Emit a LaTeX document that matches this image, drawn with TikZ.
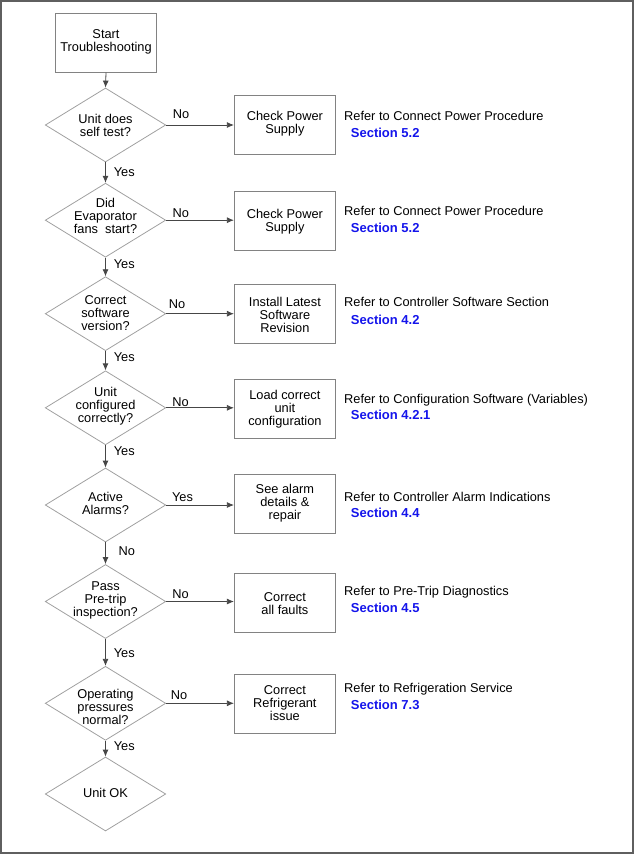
\documentclass[tikz,border=0pt]{standalone}
\usepackage{fontspec}
\setmainfont{Liberation Sans}
\usetikzlibrary{shapes.geometric,arrows.meta}
\definecolor{secblue}{RGB}{20,20,235}
\definecolor{diaC}{RGB}{160,160,160}
\definecolor{boxC}{RGB}{130,130,130}
\definecolor{lineC}{RGB}{70,70,70}
\definecolor{frameC}{RGB}{95,95,95}
\begin{document}
\begin{tikzpicture}[x=1pt,y=-1pt,
  every node/.style={font=\fontsize{12.8}{13}\selectfont},
  decision/.style={draw=diaC, shape=diamond, minimum width=120.5pt, minimum height=74pt, inner sep=0pt, line width=0.8pt},
  actbox/.style={draw=boxC, rectangle, minimum width=101.2pt, minimum height=59pt, inner sep=0pt, line width=0.8pt},
  lbl/.style={align=center, inner sep=0pt, text depth=0pt},
  flow/.style={draw=lineC, line width=0.8pt, -{Latex[length=7pt,width=6pt]}},
  yn/.style={inner sep=0pt, text depth=0pt},
  refer/.style={anchor=west, inner sep=0pt, text height=9.2pt, text depth=0pt},
  sect/.style={anchor=west, inner sep=0pt, text height=9.4pt, text depth=0pt, text=secblue, font=\fontsize{13}{13}\selectfont\bfseries},
]
\useasboundingbox (0,0) rectangle (634,854);
\draw[frameC, line width=1.4pt] (1,1) rectangle (632.8,852.8);

% start
\node[actbox] (start) at (106,42.8) {};
\node[lbl] (tstart) at (106,40.3) {Start\\Troubleshooting};

% decisions
\node[decision] (d1) at (105.5,125) {};
\node[decision] (d2) at (105.5,220.2) {};
\node[decision] (d3) at (105.5,313.7) {};
\node[decision] (d4) at (105.5,407.8) {};
\node[decision] (d5) at (105.5,505) {};
\node[decision] (d6) at (105.5,601.5) {};
\node[decision] (d7) at (105.5,703.3) {};
\node[decision] (d8) at (105.5,794) {};

\node[lbl] (td1) at (105.5,125) {Unit does\\self test?};
\node[lbl] (td2) at (105.5,216) {Did\\Evaporator\\fans~ start?};
\node[lbl] (td3) at (105.5,312.7) {Correct\\software\\version?};
\node[lbl] (td4) at (105.5,405) {Unit\\configured\\correctly?};
\node[lbl] (td5) at (105.5,503) {Active\\Alarms?};
\node[lbl] (td6) at (105.5,599.3) {Pass\\Pre-trip\\inspection?};
\node[lbl] (td7) at (105.5,707) {Operating\\pressures\\normal?};
\node[lbl] (td8) at (105.5,793.3) {Unit OK};

% action boxes
\node[actbox] (b1) at (284.9,125) {};
\node[actbox] (b2) at (284.9,220.6) {};
\node[actbox] (b3) at (284.9,313.8) {};
\node[actbox] (b4) at (284.9,408.7) {};
\node[actbox] (b5) at (284.9,503.8) {};
\node[actbox] (b6) at (284.9,602.8) {};
\node[actbox] (b7) at (284.9,703.8) {};

\node[lbl] (tb1) at (284.9,122.8) {Check Power\\Supply};
\node[lbl] (tb2) at (284.9,220.8) {Check Power\\Supply};
\node[lbl] (tb3) at (284.9,314.7) {Install Latest\\Software\\Revision};
\node[lbl] (tb4) at (284.9,408) {Load correct\\unit\\configuration};
\node[lbl] (tb5) at (284.9,502.2) {See alarm\\details \&\\repair};
\node[lbl] (tb6) at (284.9,603.7) {Correct\\all faults};
\node[lbl] (tb7) at (284.9,703.3) {Correct\\Refrigerant\\issue};

% references
\node[refer] (r1) at (344,115.7) {Refer to Connect Power Procedure};
\node[sect]  (s1) at (350.7,132.3) {Section 5.2};
\node[refer] (r2) at (344,211) {Refer to Connect Power Procedure};
\node[sect]  (s2) at (350.7,227.7) {Section 5.2};
\node[refer] (r3) at (344,302.3) {Refer to Controller Software Section};
\node[sect]  (s3) at (350.7,320) {Section 4.2};
\node[refer] (r4) at (344,399.3) {Refer to Configuration Software (Variables)};
\node[sect]  (s4) at (350.7,415) {Section 4.2.1};
\node[refer] (r5) at (344,496.7) {Refer to Controller Alarm Indications};
\node[sect]  (s5) at (350.7,512.3) {Section 4.4};
\node[refer] (r6) at (344,590.7) {Refer to Pre-Trip Diagnostics};
\node[sect]  (s6) at (350.7,607.7) {Section 4.5};
\node[refer] (r7) at (344,688.3) {Refer to Refrigeration Service};
\node[sect]  (s7) at (350.7,705) {Section 7.3};

% vertical flow
\draw[flow] (start.south) -- (d1.north);
\draw[flow] (d1.south) -- (d2.north);
\draw[flow] (d2.south) -- (d3.north);
\draw[flow] (d3.south) -- (d4.north);
\draw[flow] (d4.south) -- (d5.north);
\draw[flow] (d5.south) -- (d6.north);
\draw[flow] (d6.south) -- (d7.north);
\draw[flow] (d7.south) -- (d8.north);

% horizontal flow
\draw[flow] (d1.east) -- (d1.east -| b1.west);
\draw[flow] (d2.east) -- (d2.east -| b2.west);
\draw[flow] (d3.east) -- (d3.east -| b3.west);
\draw[flow] (d4.east) -- (d4.east -| b4.west);
\draw[flow] (d5.east) -- (d5.east -| b5.west);
\draw[flow] (d6.east) -- (d6.east -| b6.west);
\draw[flow] (d7.east) -- (d7.east -| b7.west);

% branch labels
\node[yn] (n1) at (181,114.5) {No};
\node[yn] (n2) at (180.7,213.3) {No};
\node[yn] (n3) at (177,304.3) {No};
\node[yn] (n4) at (180.5,402.3) {No};
\node[yn] (n5) at (182.5,496.7) {Yes};
\node[yn] (n6) at (180.5,594) {No};
\node[yn] (n7) at (179,695) {No};

\node[yn] (y1) at (124.3,171.7) {Yes};
\node[yn] (y2) at (124.3,263.7) {Yes};
\node[yn] (y3) at (124.3,356.7) {Yes};
\node[yn] (y4) at (124.3,450.7) {Yes};
\node[yn] (y5) at (126.7,550.7) {No};
\node[yn] (y6) at (124.3,652.7) {Yes};
\node[yn] (y7) at (124.3,746) {Yes};
\end{tikzpicture}
\end{document}
